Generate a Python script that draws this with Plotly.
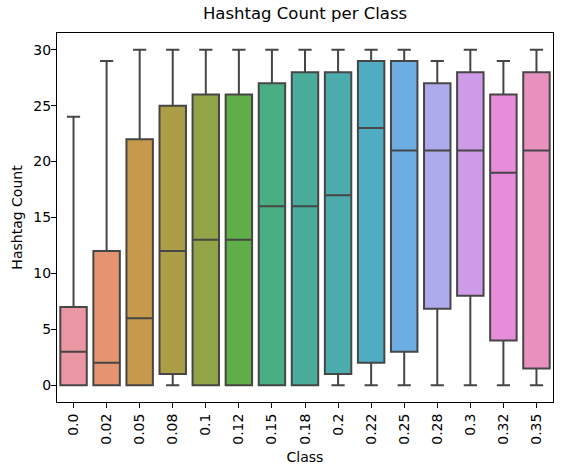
#! /usr/bin/env python
# -*- coding: utf-8 -*-

import colorsys
import math

import plotly.graph_objects as go


# data (box summary per class)
classes = ['0.0', '0.02', '0.05', '0.08', '0.1', '0.12', '0.15', '0.18',
           '0.2', '0.22', '0.25', '0.28', '0.3', '0.32', '0.35']
lower = [0, 0, 0, 0, 0, 0, 0, 0, 0, 0, 0, 0, 0, 0, 0]
q1 = [0, 0, 0, 1, 0, 0, 0, 0, 1, 2, 3, 6.85, 8, 4, 1.5]
median = [3, 2, 6, 12, 13, 13, 16, 16, 17, 23, 21, 21, 21, 19, 21]
q3 = [7, 12, 22, 25, 26, 26, 27, 28, 28, 29, 29, 27, 28, 26, 28]
upper = [24, 29, 30, 30, 30, 30, 30, 30, 30, 30, 30, 29, 30, 29, 30]
y_ticks = [0, 5, 10, 15, 20, 25, 30]


# husl palette, the way seaborn colours many categories
# ******************************************************

M = [[3.2406, -1.5372, -0.4986],
     [-0.9689, 1.8758, 0.0415],
     [0.0557, -0.2040, 1.0570]]
REF_U, REF_V = 0.19784, 0.46834


def max_chroma(L, H):
    hrad = math.radians(H)
    sin_h, cos_h = math.sin(hrad), math.cos(hrad)
    sub1 = (L + 16) ** 3 / 1560896.0
    sub2 = sub1 if sub1 > 0.008856 else L / 903.3
    result = float('inf')
    for m1, m2, m3 in M:
        top = (0.99915 * m1 + 1.05122 * m2 + 1.14460 * m3) * sub2
        rbottom = 0.86330 * m3 - 0.17266 * m2
        lbottom = 0.12949 * m3 - 0.38848 * m1
        bottom = (rbottom * sin_h + lbottom * cos_h) * sub2
        for t in (0.0, 1.0):
            c = L * (top - 1.05122 * t) / (bottom + 0.17266 * sin_h * t)
            if 0.0 < c < result:
                result = c
    return result


def husl_to_rgb(h, s, l):
    c = max_chroma(l, h) / 100.0 * s
    hrad = math.radians(h)
    u, v = math.cos(hrad) * c, math.sin(hrad) * c
    t = (l + 16.0) / 116.0
    y = t ** 3 if t ** 3 > 0.008856 else (116.0 * t - 16.0) / 903.3
    var_u = u / (13.0 * l) + REF_U
    var_v = v / (13.0 * l) + REF_V
    x = -(9.0 * y * var_u) / ((var_u - 4.0) * var_v - var_u * var_v)
    z = (9.0 * y - 15.0 * var_v * y - var_v * x) / (3.0 * var_v)
    rgb = []
    for row in M:
        ch = row[0] * x + row[1] * y + row[2] * z
        ch = 12.92 * ch if ch <= 0.0031308 else 1.055 * ch ** (1 / 2.4) - 0.055
        rgb.append(min(max(ch, 0.0), 1.0))
    return rgb


def box_colors(n, desat=0.75):
    cols = []
    for i in range(n):
        hue = ((i / n) + 0.01) % 1 * 359
        r, g, b = husl_to_rgb(hue, 0.9 * 99, 0.7 * 99)
        h, lum, s = colorsys.rgb_to_hls(r, g, b)
        cols.append(colorsys.hls_to_rgb(h, lum, s * desat))
    return cols


def to_hex(c):
    return '#%02x%02x%02x' % tuple(int(round(v * 255)) for v in c)


colors = box_colors(len(classes))
lum = min(colorsys.rgb_to_hls(*c)[1] for c in colors) * 0.6
gray = to_hex((lum, lum, lum))

fig = go.Figure()
for i, cat in enumerate(classes):
    fig.add_trace(go.Box(
        x=[cat], q1=[q1[i]], median=[median[i]], q3=[q3[i]],
        lowerfence=[lower[i]], upperfence=[upper[i]],
        width=0.8, whiskerwidth=0.5,
        fillcolor=to_hex(colors[i]), line=dict(color=gray, width=2),
        boxpoints=False, showlegend=False,
    ))

font = 'DejaVu Sans, sans-serif'
fig.update_layout(
    width=562, height=472,
    margin=dict(l=57, r=9, t=33, b=70, autoexpand=False),
    paper_bgcolor='white', plot_bgcolor='white',
    font=dict(family=font, size=14, color='black'),
    boxmode='overlay',
    title=dict(text='Hashtag Count per Class', x=0.5, xref='paper',
               xanchor='center', y=1 - 13 / 472, yanchor='middle',
               font=dict(size=16.5, color='black')),
    xaxis=dict(
        type='category', categoryorder='array', categoryarray=classes,
        range=[-0.5, len(classes) - 0.5], autorange=False, automargin=False,
        title=dict(text='Class', standoff=8, font=dict(size=14)),
        tickangle=-90, ticks='outside', ticklen=5, tickcolor='black',
        showline=True, mirror=True, linecolor='black', linewidth=1,
        showgrid=False, zeroline=False,
    ),
    yaxis=dict(
        range=[-1.5, 31.5], autorange=False, automargin=False,
        tickvals=y_ticks, ticklabelstandoff=-3,
        title=dict(text='Hashtag Count', standoff=7, font=dict(size=14)),
        ticks='outside', ticklen=5, tickcolor='black',
        showline=True, mirror=True, linecolor='black', linewidth=1,
        showgrid=False, zeroline=False,
    ),
)

# the page's default 8px body margin would push the figure off the window
fig.write_html('out.html', config={'displayModeBar': False},
               post_script="document.body.style.margin = '0';")
